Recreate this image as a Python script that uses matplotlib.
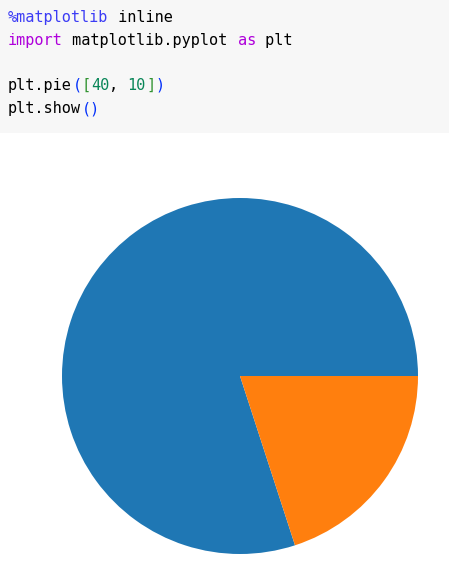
import matplotlib.pyplot as plt
from matplotlib.patches import Rectangle

# dados do gráfico
valores = [40, 10]
cores = ['#1f77b4', '#ff7f0e']

# linhas do código da célula: (texto, cor) por pedaço
linhas_codigo = [
    [('%matplotlib', '#3c3cf5'), (' inline', '#000000')],
    [('import', '#af00db'), (' matplotlib.pyplot ', '#000000'), ('as', '#af00db'), (' plt', '#000000')],
    [],
    [('plt.pie', '#000000'), ('(', '#0431fa'), ('[', '#319331'), ('40', '#098658'),
     (', ', '#000000'), ('10', '#098658'), (']', '#319331'), (')', '#0431fa')],
    [('plt.show', '#000000'), ('()', '#0431fa')],
]

W, H = 449, 580
fig = plt.figure(figsize=(W / 100, H / 100), dpi=100)
fig.patch.set_facecolor('white')

# fundo cinza da célula de código
fig.patches.append(Rectangle((0, 1 - 133 / H), 1, 133 / H, transform=fig.transFigure,
                             facecolor='#f7f7f7', edgecolor='none', zorder=0))

tam_fonte = 11
char_w = 0.602 * tam_fonte * 100 / 72  # avanço do DejaVu Sans Mono em px
y0 = 17.5
passo = 23
for i, linha in enumerate(linhas_codigo):
    col = 0
    y = y0 + i * passo
    if i >= 3:
        y -= 1
    for texto, cor in linha:
        fig.text((8 + col * char_w) / W, 1 - y / H, texto, color=cor,
                 family='DejaVu Sans Mono', fontsize=tam_fonte, va='center', ha='left')
        col += len(texto)

# pizza
cx, cy, r = 240, 376, 178
lim = 1.1
meia = r * lim
ax = fig.add_axes([(cx - meia) / W, (H - cy - meia) / H, 2 * meia / W, 2 * meia / H])
ax.pie(valores, colors=cores)
ax.set_xlim(-lim, lim)
ax.set_ylim(-lim, lim)
ax.set_aspect('equal')
ax.axis('off')

plt.savefig('out.png', dpi=100)
